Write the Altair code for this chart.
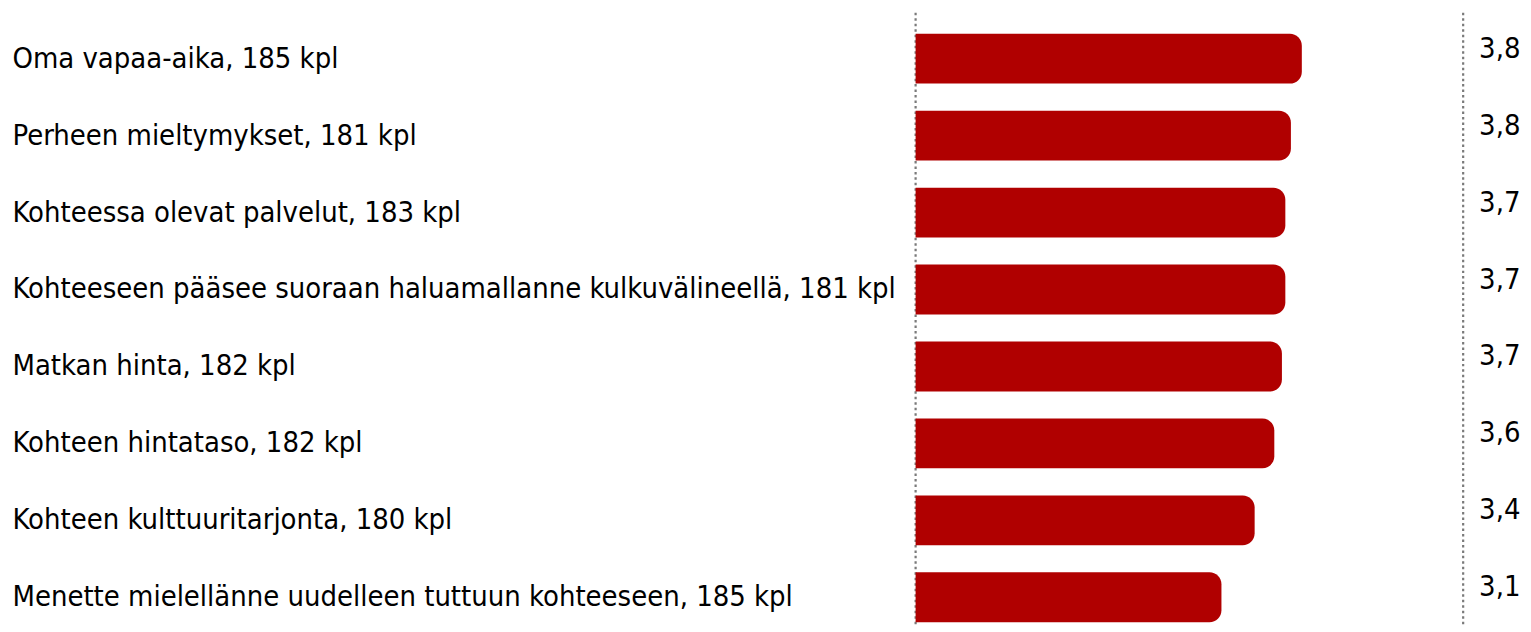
import altair as alt
import pandas as pd

# --- data ---
categories = [
    "Oma vapaa-aika",
    "Perheen mieltymykset",
    "Kohteessa olevat palvelut",
    "Kohteeseen pääsee suoraan haluamallanne kulkuvälineellä",
    "Matkan hinta",
    "Kohteen hintataso",
    "Kohteen kulttuuritarjonta",
    "Menette mielellänne uudelleen tuttuun kohteeseen",
]
counts = [185, 181, 183, 181, 182, 182, 180, 185]
means = [3.848, 3.752, 3.703, 3.703, 3.673, 3.606, 3.433, 3.141]
axis_min = 0.451
axis_max = 5.267

FONT = "DejaVu Sans Condensed, DejaVu Sans"
RED = "#B00000"

labels = [f"{c}, {n} kpl" for c, n in zip(categories, counts)]
df = pd.DataFrame({"label": labels, "value": means})
rules_df = pd.DataFrame({"x": [axis_min, axis_max]})

x_scale = alt.Scale(domain=[axis_min, axis_max], zero=False, nice=False)
y_scale = alt.Scale(paddingInner=0.352, paddingOuter=0.1556, align=0.875)

y_enc = alt.Y(
    "label:N",
    sort=labels,
    scale=y_scale,
    axis=alt.Axis(
        title=None,
        labelAlign="left",
        labelBaseline="middle",
        labelPadding=906,
        tickSize=0,
        ticks=False,
        domain=False,
        grid=False,
        labelLimit=1000,
        labelFont=FONT,
        labelFontSize=29,
        labelColor="#000000",
    ),
)

bars = alt.Chart(df).mark_bar(
    color=RED, cornerRadiusTopRight=12, cornerRadiusBottomRight=12
).encode(
    y=y_enc,
    x=alt.X("value:Q", scale=x_scale, axis=None),
    x2=alt.datum(axis_min),
)

rules = alt.Chart(rules_df).mark_rule(
    color="#7a7a7a", strokeWidth=2.2, strokeDash=[2.5, 3]
).encode(x=alt.X("x:Q", scale=x_scale, axis=None))

values = alt.Chart(df).transform_calculate(
    txt="replace(format(datum.value, '.1f'), '.', ',')"
).mark_text(
    align="left", baseline="middle", dx=16, dy=-10,
    font=FONT, fontSize=29, color="#000000",
).encode(
    y=alt.Y("label:N", sort=labels, scale=y_scale),
    x=alt.datum(axis_max),
    text="txt:N",
)

chart = alt.layer(rules, bars, values).properties(
    width=549,
    height=614,
    padding={"left": 4, "top": 2, "right": 2, "bottom": 0},
).configure_view(stroke=None)

chart.save("out.html", embed_options={"renderer": "svg", "actions": False})
